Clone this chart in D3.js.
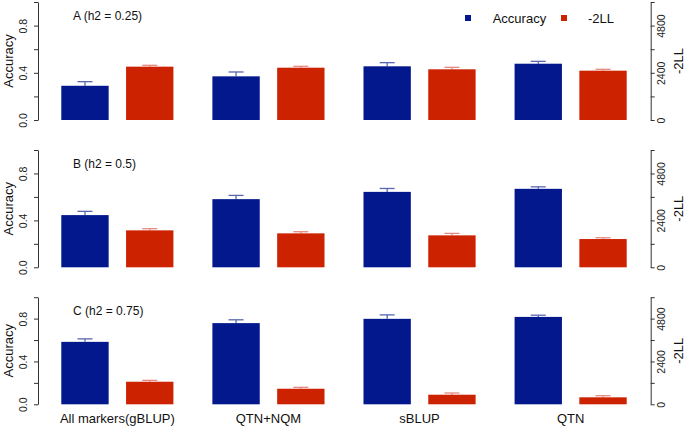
<!DOCTYPE html>
<html><head><meta charset="utf-8">
<script src="https://cdn.jsdelivr.net/npm/d3@7"></script>
<style>body{margin:0;background:#fff}svg{display:block;font-family:"Liberation Sans",Arial,sans-serif}</style>
</head><body><svg id="c" width="685" height="428"></svg>
<script>
const categories = ["All markers(gBLUP)", "QTN+NQM", "sBLUP", "QTN"];
const seriesNames = ["Accuracy", "-2LL"];
const panelLabels = ["A (h2 = 0.25)", "B (h2 = 0.5)", "C (h2 = 0.75)"];
const accA = [0.290, 0.370, 0.455, 0.477];
const accB = [0.445, 0.581, 0.643, 0.669];
const accC = [0.583, 0.758, 0.798, 0.816];
const accSeA = [0.035, 0.037, 0.031, 0.020];
const accSeB = [0.032, 0.032, 0.029, 0.017];
const accSeC = [0.028, 0.031, 0.037, 0.016];
const llA = [2712, 2660, 2578, 2508];
const llB = [1890, 1736, 1634, 1446];
const llC = [1264, 872, 537, 391];
const llSeA = [70, 70, 100, 70];
const llSeB = [84, 84, 100, 66];
const llSeC = [78, 78, 96, 90];
const accTicks = [0, 0.2, 0.4, 0.6, 0.8, 1.0];
const accTickLabels = ["0.0", "", "0.4", "", "0.8", ""];
const llTicks = [0, 1200, 2400, 3600, 4800, 6000];
const llTickLabels = ["0", "", "2400", "", "4800", ""];

const acc = [accA, accB, accC], accSe = [accSeA, accSeB, accSeC];
const ll = [llA, llB, llC], llSe = [llSeA, llSeB, llSeC];

const blue = "#03188c", red = "#cc2200";
const blueErr = "#5867b0", redErr = "#e58a80";
const axisCol = "#333";

const svg = d3.select("#c");
const panelsY = [[120, 2], [267.3, 150], [404.3, 297.2]];
const xLeft = 38, xRight = 650.7;

const x0 = d3.scaleBand().domain(categories).range([61.3, 626.7]).paddingInner(0.258).paddingOuter(0);
const x1 = d3.scaleBand().domain(seriesNames).range([0, x0.bandwidth()]).paddingInner(0.269).paddingOuter(0);

panelsY.forEach((py, pi) => {
  const yA = d3.scaleLinear().domain([0, 1]).range(py);
  const yL = d3.scaleLinear().domain([0, 6000]).range(py);
  const g = svg.append("g");

  // left axis
  const la = g.append("g").attr("transform", `translate(${xLeft},0)`)
    .call(d3.axisLeft(yA).tickValues(accTicks).tickFormat((d, i) => accTickLabels[i]).tickSize(4).tickSizeOuter(0));
  la.select(".domain").attr("stroke", axisCol);
  la.selectAll(".tick line").attr("stroke", axisCol);
  la.selectAll(".tick text").attr("transform", "rotate(-90)").attr("x", 0).attr("y", -15)
    .attr("text-anchor", "middle").attr("dy", "0.35em").attr("font-size", 10.5).attr("fill", "#222");

  // right axis
  const ra = g.append("g").attr("transform", `translate(${xRight},0)`)
    .call(d3.axisRight(yL).tickValues(llTicks).tickFormat((d, i) => llTickLabels[i]).tickSize(4).tickSizeOuter(0));
  ra.select(".domain").attr("stroke", axisCol);
  ra.selectAll(".tick line").attr("stroke", axisCol);
  ra.selectAll(".tick text").attr("transform", "rotate(-90)").attr("x", 0).attr("y", 11)
    .attr("text-anchor", "middle").attr("dy", "0.35em").attr("font-size", 10.5).attr("fill", "#222");

  const midY = (py[0] + py[1]) / 2;
  g.append("text").attr("transform", `translate(8,${midY}) rotate(-90)`).attr("text-anchor", "middle")
    .attr("dy", "0.35em").attr("font-size", 13).attr("fill", "#111").text("Accuracy");
  g.append("text").attr("transform", `translate(678,${midY}) rotate(-90)`).attr("text-anchor", "middle")
    .attr("dy", "0.35em").attr("font-size", 13).attr("fill", "#111").text("-2LL");

  g.append("text").attr("x", 73).attr("y", yA(1) + 14).attr("dy", "0.35em").attr("font-size", 12)
    .attr("fill", "#111").text(panelLabels[pi]);

  categories.forEach((c, ci) => {
    const bx = x0(c) + x1("Accuracy"), rx = x0(c) + x1("-2LL"), w = x1.bandwidth();
    const a = acc[pi][ci], ae = accSe[pi][ci];
    const l = ll[pi][ci], le = llSe[pi][ci];
    // error bars (upper only)
    const cxB = bx + w / 2, cxR = rx + w / 2;
    g.append("line").attr("x1", cxB).attr("x2", cxB).attr("y1", yA(a)).attr("y2", yA(a + ae)).attr("stroke", blueErr).attr("stroke-width", 1.3);
    g.append("line").attr("x1", cxB - 7.5).attr("x2", cxB + 7.5).attr("y1", yA(a + ae)).attr("y2", yA(a + ae)).attr("stroke", blueErr).attr("stroke-width", 1.3);
    g.append("line").attr("x1", cxR).attr("x2", cxR).attr("y1", yL(l)).attr("y2", yL(l + le)).attr("stroke", redErr).attr("stroke-width", 1.3);
    g.append("line").attr("x1", cxR - 7.5).attr("x2", cxR + 7.5).attr("y1", yL(l + le)).attr("y2", yL(l + le)).attr("stroke", redErr).attr("stroke-width", 1.3);
    g.append("rect").attr("x", bx).attr("width", w).attr("y", yA(a)).attr("height", yA(0) - yA(a)).attr("fill", blue);
    g.append("rect").attr("x", rx).attr("width", w).attr("y", yL(l)).attr("height", yL(0) - yL(l)).attr("fill", red);
  });

  if (pi === 2) {
    categories.forEach(c => {
      g.append("text").attr("x", x0(c) + x0.bandwidth() / 2).attr("y", 418).attr("dy", "0.35em")
        .attr("text-anchor", "middle").attr("font-size", 13).attr("fill", "#111").text(c);
    });
  }
});

// legend
const leg = svg.append("g");
leg.append("rect").attr("x", 465).attr("y", 15).attr("width", 6).attr("height", 6).attr("fill", blue);
leg.append("text").attr("x", 492.7).attr("y", 18).attr("dy", "0.35em").attr("font-size", 13).attr("fill", "#111").text(seriesNames[0]);
leg.append("rect").attr("x", 561).attr("y", 15).attr("width", 6).attr("height", 6).attr("fill", red);
leg.append("text").attr("x", 588).attr("y", 18).attr("dy", "0.35em").attr("font-size", 13).attr("fill", "#111").text(seriesNames[1]);
</script></body></html>
